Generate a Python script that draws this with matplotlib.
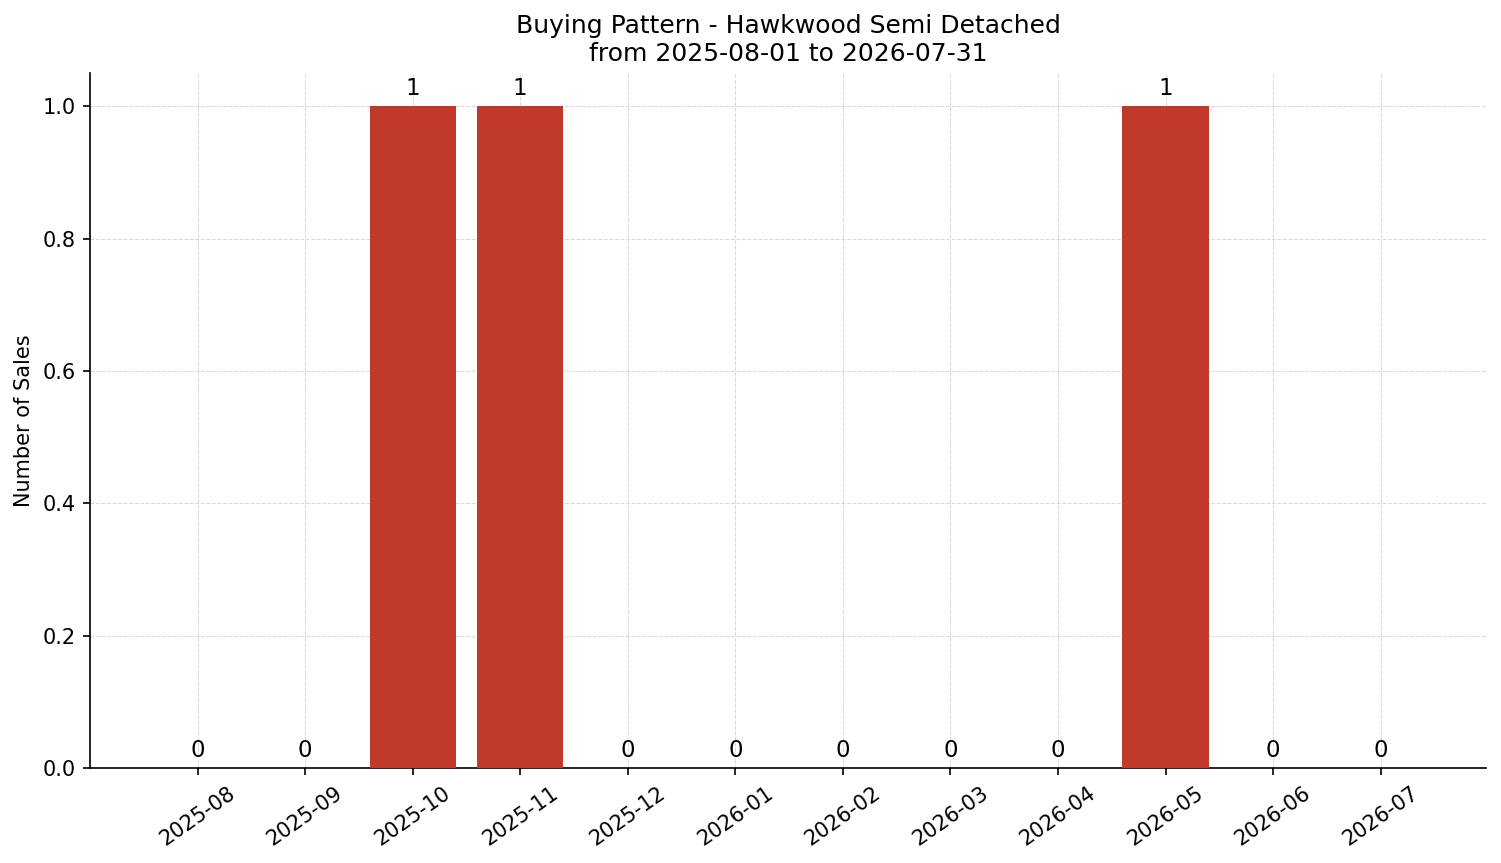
import matplotlib
matplotlib.use("Agg")
from matplotlib import pyplot as plt

months = ['2025-08', '2025-09', '2025-10', '2025-11', '2025-12', '2026-01',
          '2026-02', '2026-03', '2026-04', '2026-05', '2026-06', '2026-07']
sales = [0, 0, 1, 1, 0, 0, 0, 0, 0, 1, 0, 0]

fig, ax = plt.subplots(figsize=(1501 / 150, 863 / 150), dpi=150)
x = range(len(months))
bars = ax.bar(x, sales, color='#c0392b', width=0.8, zorder=3)
for b, v in zip(bars, sales):
    ax.annotate(str(v), (b.get_x() + b.get_width() / 2, v), xytext=(0, 3),
                textcoords='offset points', ha='center', va='bottom', fontsize=11)

ax.set_xticks(list(x))
ax.set_xticklabels(months, rotation=35, ha='center')
ax.set_ylabel('Number of Sales')
ax.set_title('Buying Pattern - Hawkwood Semi Detached\nfrom 2025-08-01 to 2026-07-31')
ax.grid(True, linestyle='--', linewidth=0.5, color='#d9d9d9', zorder=0)
ax.spines['top'].set_visible(False)
ax.spines['right'].set_visible(False)
ax.set_xlim(-1, 11.98)
ax.set_ylim(0, 1.05)
fig.subplots_adjust(left=0.06, right=0.99, top=0.915, bottom=0.11)
fig.savefig('out.png', dpi=150)
